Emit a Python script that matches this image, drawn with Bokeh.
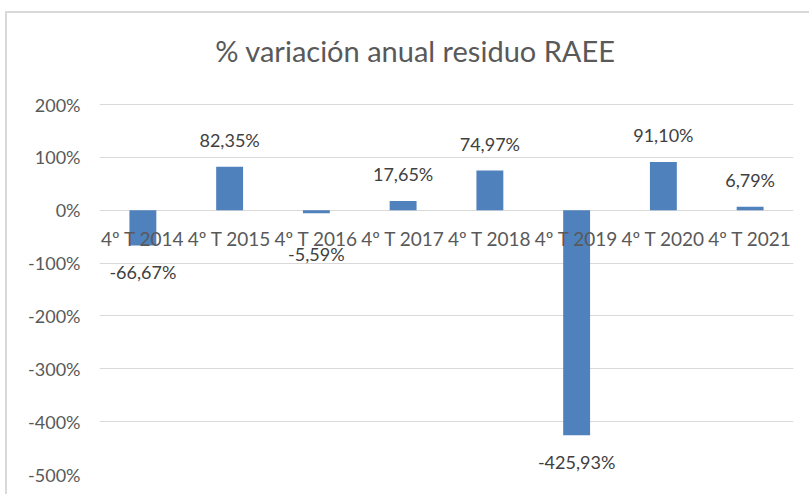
from bokeh.plotting import figure
from bokeh.models import Range1d, ColumnDataSource, FixedTicker, Label
from bokeh.core.properties import value
from bokeh.embed import file_html
from bokeh.resources import INLINE

# Data
categories = ["4º T 2014", "4º T 2015", "4º T 2016", "4º T 2017",
              "4º T 2018", "4º T 2019", "4º T 2020", "4º T 2021"]
variation = [-0.6667, 0.8235, -0.0559, 0.1765, 0.7497, -4.2593, 0.9110, 0.0679]
value_labels = ["-66,67%", "82,35%", "-5,59%", "17,65%",
                "74,97%", "-425,93%", "91,10%", "6,79%"]
y_ticks = [-5, -4, -3, -2, -1, 0, 1, 2]
y_tick_labels = ["-500%", "-400%", "-300%", "-200%", "-100%", "0%", "100%", "200%"]
title_text = "% variación anual residuo RAEE"

FONT = "Lato"
GREY = "#595959"

xs = [i + 0.5 for i in range(len(categories))]
src = ColumnDataSource(dict(x=xs, top=variation, cat=categories))
pos = ColumnDataSource(dict(
    x=[x for x, v in zip(xs, variation) if v >= 0],
    y=[v for v in variation if v >= 0],
    lab=[l for l, v in zip(value_labels, variation) if v >= 0]))
# negative labels are kept below the row of category labels
neg = ColumnDataSource(dict(
    x=[x for x, v in zip(xs, variation) if v < 0],
    y=[min(v, -0.32) for v in variation if v < 0],
    lab=[l for l, v in zip(value_labels, variation) if v < 0]))

# frame extends upward to hold the title; grid lines only at the ticks
PX_PER_UNIT = 370 / 7.0
top_room = 91 / PX_PER_UNIT
p = figure(width=804, height=483, output_backend="svg", toolbar_location=None,
           x_range=Range1d(0, len(categories)),
           y_range=Range1d(min(y_ticks), max(y_ticks) + top_room),
           min_border_left=92, min_border_right=18, min_border_top=0,
           min_border_bottom=22)
p.styles = {"border-top": "2px solid #d9d9d9", "border-left": "2px solid #d9d9d9",
            "margin-left": "5px", "margin-top": "11px"}
p.outline_line_color = None
p.background_fill_color = "white"
p.border_fill_color = "white"

p.xaxis.visible = False
p.xgrid.visible = False
p.ygrid.grid_line_color = "#d9d9d9"
p.ygrid.grid_line_width = 1
p.yaxis.ticker = FixedTicker(ticks=y_ticks)
p.yaxis.major_label_overrides = {t: l for t, l in zip(y_ticks, y_tick_labels)}
p.yaxis.axis_line_color = None
p.yaxis.major_tick_line_color = None
p.yaxis.minor_tick_line_color = None
p.yaxis.major_label_text_font = FONT
p.yaxis.major_label_text_font_size = "18px"
p.yaxis.major_label_text_color = GREY
p.yaxis.major_label_standoff = 13

p.vbar(x="x", top="top", bottom=0, width=0.31, source=src,
       fill_color="#4f81bd", line_color=None)

# category labels at zero line
p.text(x="x", y=0, text="cat", source=src, text_align="center",
       text_baseline="middle", y_offset=28, text_font=value(FONT),
       text_font_size="19px", text_color=GREY)

# data labels
p.text(x="x", y="y", text="lab", source=pos, text_align="center",
       text_baseline="middle", y_offset=-27, text_font=value(FONT),
       text_font_size="18px", text_color="#404040")
p.text(x="x", y="y", text="lab", source=neg, text_align="center",
       text_baseline="middle", y_offset=27, text_font=value(FONT),
       text_font_size="18px", text_color="#404040")

# chart title
p.add_layout(Label(x=len(categories) / 2, y=max(y_ticks), x_offset=-31, y_offset=54,
                   text=title_text, text_align="center", text_baseline="middle",
                   text_font=FONT, text_font_size="29px", text_color=GREY))

open("out.html", "w").write(file_html(p, INLINE))
